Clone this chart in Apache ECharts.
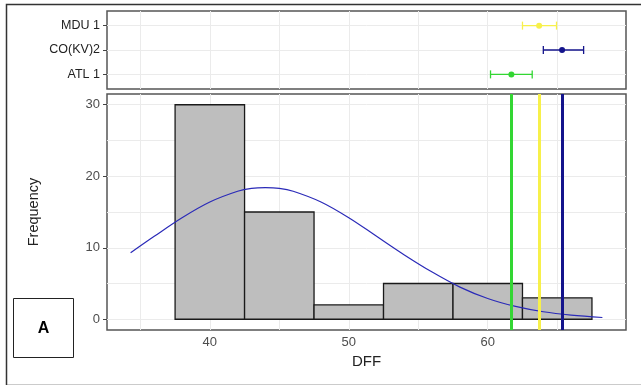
<!DOCTYPE html>
<html>
<head>
<meta charset="utf-8">
<script src="https://cdn.jsdelivr.net/npm/echarts@6/dist/echarts.min.js"></script>
<style>
  html, body { margin: 0; padding: 0; background: #fff; }
  #chart { width: 641px; height: 385px; }
</style>
</head>
<body>
<div id="chart"></div>
<script>
// Histogram of DFF (bin edges and counts)
const binEdges = [37.5, 42.5, 47.5, 52.5, 57.5, 62.5, 67.5];
const binCounts = [30, 15, 2, 5, 5, 3];

// Fitted density curve, scaled to counts
const curveX = [34.3, 36, 38, 40, 42, 43, 44, 45, 46, 48, 50, 52, 54, 56, 58, 60, 62, 64, 66, 68.25];
const curveY = [9.3, 11.6, 14.2, 16.4, 17.9, 18.3, 18.4, 18.3, 17.9, 16.4, 14.2, 11.6, 9.0, 6.6, 4.5, 2.9, 1.8, 1.05, 0.58, 0.25];

// Group means with intervals (listed bottom to top)
const groups = ['ATL 1', 'CO(KV)2', 'MDU 1'];
const groupMean = [61.7, 65.35, 63.7];
const groupLow = [60.2, 64.0, 62.5];
const groupHigh = [63.2, 66.9, 64.95];
const groupColor = ['#33d633', '#14148c', '#f7f04a'];

// Axis ticks
const xTicks = [40, 50, 60];
const xGrid = [35, 40, 45, 50, 55, 60, 65];
const yTicks = [0, 10, 20, 30];
const yGrid = [0, 5, 10, 15, 20, 25, 30];
const groupPos = [1, 2, 3];

const chart = echarts.init(document.getElementById('chart'));
const FONT = 'Liberation Sans';
const gridColor = '#ebebeb';
const X_MIN = 32.6, X_MAX = 69.95;

const histData = binCounts.map((c, i) => [binEdges[i], binEdges[i + 1], c]);
const curveData = curveX.map((x, i) => [x, curveY[i]]);
const errData = groups.map((g, i) => [groupLow[i], groupHigh[i], groupMean[i], groupPos[i], i]);

function gridMark(vals, axisKey, width) {
  return vals.map(v => ({ [axisKey]: v, lineStyle: { color: gridColor, width: width, type: 'solid' } }));
}

chart.setOption({
  animation: false,
  backgroundColor: '#fff',
  textStyle: { fontFamily: FONT },
  grid: [
    { left: 107, top: 11, width: 519, height: 78, show: true, borderColor: '#555', borderWidth: 1.5, backgroundColor: '#fff' },
    { left: 107, top: 94, width: 519, height: 236, show: true, borderColor: '#555', borderWidth: 1.5, backgroundColor: '#fff' }
  ],
  xAxis: [
    {
      gridIndex: 0, type: 'value', min: X_MIN, max: X_MAX,
      axisLine: { show: false }, axisTick: { show: false }, axisLabel: { show: false }, splitLine: { show: false }
    },
    {
      gridIndex: 1, type: 'value', min: X_MIN, max: X_MAX,
      name: 'DFF', nameLocation: 'middle', nameGap: 18,
      nameTextStyle: { fontSize: 15, color: '#222', fontFamily: FONT },
      axisLine: { show: false },
      axisTick: { show: true, customValues: xTicks, length: 4, lineStyle: { color: '#444', width: 1 } },
      axisLabel: { customValues: xTicks, color: '#4d4d4d', fontSize: 13, margin: 6, fontFamily: FONT },
      splitLine: { show: false }
    }
  ],
  yAxis: [
    {
      gridIndex: 0, type: 'value', min: 0.4, max: 3.6,
      axisLine: { show: false },
      axisTick: { show: true, customValues: groupPos, length: 4, lineStyle: { color: '#444', width: 1 } },
      axisLabel: {
        customValues: groupPos, color: '#222', fontSize: 12.5, margin: 7, fontFamily: FONT,
        formatter: v => groups[groupPos.indexOf(Math.round(v))] || ''
      },
      splitLine: { show: false }
    },
    {
      gridIndex: 1, type: 'value', min: -1.5, max: 31.5,
      name: 'Frequency', nameLocation: 'middle', nameGap: 66, nameRotate: 90,
      nameTextStyle: { fontSize: 14.5, color: '#222', fontFamily: FONT },
      axisLine: { show: false },
      axisTick: { show: true, customValues: yTicks, length: 4, lineStyle: { color: '#444', width: 1 } },
      axisLabel: { customValues: yTicks, color: '#4d4d4d', fontSize: 13, margin: 7, fontFamily: FONT },
      splitLine: { show: false }
    }
  ],
  series: [
    // panel gridlines (top)
    {
      type: 'line', xAxisIndex: 0, yAxisIndex: 0, data: [], silent: true, z: 1,
      markLine: {
        z: 1, silent: true, symbol: 'none', label: { show: false }, animation: false,
        data: gridMark(xGrid, 'xAxis', 1).concat(gridMark(groupPos, 'yAxis', 1))
      }
    },
    // panel gridlines (bottom)
    {
      type: 'line', xAxisIndex: 1, yAxisIndex: 1, data: [], silent: true, z: 1,
      markLine: {
        z: 1, silent: true, symbol: 'none', label: { show: false }, animation: false,
        data: gridMark(xGrid, 'xAxis', 1).concat(gridMark(yGrid, 'yAxis', 1))
      }
    },
    // histogram bars
    {
      type: 'custom', xAxisIndex: 1, yAxisIndex: 1, z: 3,
      data: histData,
      encode: { x: [0, 1], y: 2 },
      renderItem: function (params, api) {
        const p0 = api.coord([api.value(0), api.value(2)]);
        const p1 = api.coord([api.value(1), 0]);
        return {
          type: 'rect',
          shape: { x: p0[0], y: p0[1], width: p1[0] - p0[0], height: p1[1] - p0[1] },
          style: { fill: '#bebebe', stroke: '#1a1a1a', lineWidth: 1.3 }
        };
      }
    },
    // density curve
    {
      type: 'line', xAxisIndex: 1, yAxisIndex: 1, z: 4,
      data: curveData, smooth: 0.35, showSymbol: false,
      lineStyle: { color: '#2a2ab8', width: 1.2 }
    },
    // group mean lines
    {
      type: 'line', xAxisIndex: 1, yAxisIndex: 1, data: [], z: 5,
      markLine: {
        z: 6, silent: true, symbol: 'none', label: { show: false }, animation: false,
        data: groupMean.map((m, i) => ({ xAxis: m, lineStyle: { color: groupColor[i], width: 3, type: 'solid' } }))
      }
    },
    // group means with interval bars
    {
      type: 'custom', xAxisIndex: 0, yAxisIndex: 0, z: 5,
      data: errData,
      encode: { x: [0, 1, 2], y: 3 },
      renderItem: function (params, api) {
        const c = groupColor[api.value(4)];
        const yv = api.value(3);
        const lo = api.coord([api.value(0), yv]);
        const hi = api.coord([api.value(1), yv]);
        const mid = api.coord([api.value(2), yv]);
        const cap = 4;
        return {
          type: 'group',
          children: [
            { type: 'line', shape: { x1: lo[0], y1: lo[1], x2: hi[0], y2: hi[1] }, style: { stroke: c, lineWidth: 1.3 } },
            { type: 'line', shape: { x1: lo[0], y1: lo[1] - cap, x2: lo[0], y2: lo[1] + cap }, style: { stroke: c, lineWidth: 1.3 } },
            { type: 'line', shape: { x1: hi[0], y1: hi[1] - cap, x2: hi[0], y2: hi[1] + cap }, style: { stroke: c, lineWidth: 1.3 } },
            { type: 'circle', shape: { cx: mid[0], cy: mid[1], r: 3 }, style: { fill: c } }
          ]
        };
      }
    }
  ],
  graphic: [
    {
      type: 'rect', left: 4, top: 2, z: -10, silent: true,
      shape: { width: 660, height: 381 },
      style: { fill: 'none', stroke: '#333', lineWidth: 1.5 }
    },
    {
      type: 'group', left: 13, top: 298, z: 100,
      children: [
        { type: 'rect', shape: { x: 0, y: 0, width: 60, height: 59 }, style: { fill: '#fff', stroke: '#222', lineWidth: 1 } },
        { type: 'text', x: 30, y: 30, style: { text: 'A', font: 'bold 16px "Liberation Sans"', fill: '#000', align: 'center', verticalAlign: 'middle' } }
      ]
    }
  ]
});
</script>
</body>
</html>
